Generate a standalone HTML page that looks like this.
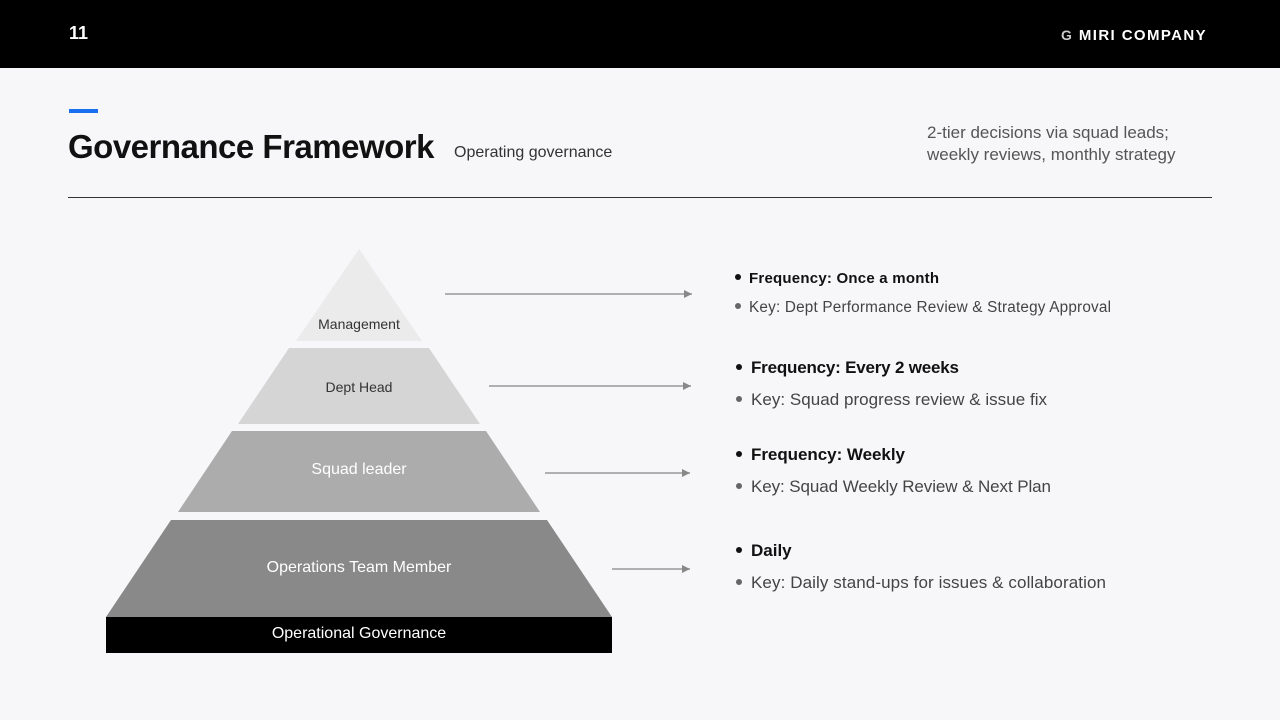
<!DOCTYPE html>
<html><head><meta charset="utf-8"><style>
body{margin:0;width:1280px;height:720px;background:#f7f7f9;font-family:"Liberation Sans",sans-serif;position:relative;overflow:hidden}
.top{position:absolute;left:0;top:0;width:1280px;height:68px;background:#000}
.t{position:absolute;white-space:nowrap}
</style></head><body>
<div class="top"></div>
<div class="t" style="left:69px;top:23px;color:#fff;font-weight:bold;font-size:18px">11</div>
<div class="t" style="left:1061px;top:27px;color:#fff;font-weight:bold;font-size:15px;letter-spacing:1.4px"><span style="color:#ccc;font-size:14px">G</span> MIRI COMPANY</div>
<div style="position:absolute;left:69px;top:109px;width:29px;height:4px;background:#1a6ff0"></div>
<div class="t" style="left:68px;top:128px;font-size:33px;font-weight:bold;color:#111;letter-spacing:-0.5px">Governance Framework</div>
<div class="t" style="left:454px;top:144px;font-size:16px;color:#333">Operating governance</div>
<div class="t" style="left:927px;top:122px;font-size:17px;color:#555;line-height:22px">2-tier decisions via squad leads;<br>weekly reviews, monthly strategy</div>
<div style="position:absolute;left:68px;top:197px;width:1144px;height:1px;background:#333"></div>
<svg style="position:absolute;left:0;top:0" width="1280" height="720">
<defs><marker id="a" markerWidth="8" markerHeight="8" refX="8" refY="4" orient="auto" markerUnits="userSpaceOnUse"><path d="M0,0L8,4L0,8z" fill="#888"/></marker></defs>
<polygon points="359,249 422,341 296,341" fill="#ebebeb"/>
<polygon points="289,348 429,348 480,424 238,424" fill="#d5d5d5"/>
<polygon points="232,431 486,431 540,512 178,512" fill="#acacac"/>
<polygon points="171,520 547,520 612,617 106,617" fill="#898989"/>
<rect x="106" y="617" width="506" height="36" fill="#000"/>
<g font-family="Liberation Sans,sans-serif" text-anchor="middle">
<text x="359" y="329" font-size="14" fill="#333">Management</text>
<text x="359" y="392" font-size="14" fill="#333">Dept Head</text>
<text x="359" y="474" font-size="16" fill="#fff">Squad leader</text>
<text x="359" y="572" font-size="16" fill="#fff">Operations Team Member</text>
<text x="359" y="638" font-size="16" fill="#fff">Operational Governance</text>
</g>
<g stroke="#999" stroke-width="1.5" marker-end="url(#a)">
<line x1="445" y1="294" x2="692" y2="294"/>
<line x1="489" y1="386" x2="691" y2="386"/>
<line x1="545" y1="473" x2="690" y2="473"/>
<line x1="612" y1="569" x2="690" y2="569"/>
</g>
<g fill="#111"><circle cx="738" cy="277" r="3"/><circle cx="739" cy="367" r="3"/><circle cx="739" cy="454" r="3"/><circle cx="739" cy="550" r="3"/></g>
<g fill="#666"><circle cx="738" cy="306" r="3"/><circle cx="739" cy="399" r="3"/><circle cx="739" cy="486" r="3"/><circle cx="739" cy="582" r="3"/></g>
<g font-family="Liberation Sans,sans-serif">
<text x="749" y="283" font-size="15" font-weight="bold" fill="#111" textLength="190">Frequency: Once a month</text>
<text x="749" y="312" font-size="15.3" fill="#444" textLength="362">Key: Dept Performance Review &amp; Strategy Approval</text>
<text x="751" y="373" font-size="17" font-weight="bold" fill="#111" textLength="208">Frequency: Every 2 weeks</text>
<text x="751" y="405" font-size="17" fill="#444" textLength="296">Key: Squad progress review &amp; issue fix</text>
<text x="751" y="460" font-size="17" font-weight="bold" fill="#111" textLength="154">Frequency: Weekly</text>
<text x="751" y="492" font-size="17" fill="#444" textLength="300">Key: Squad Weekly Review &amp; Next Plan</text>
<text x="751" y="556" font-size="17" font-weight="bold" fill="#111">Daily</text>
<text x="751" y="588" font-size="17" fill="#444" textLength="355">Key: Daily stand-ups for issues &amp; collaboration</text>
</g>
</svg>
</body></html>
